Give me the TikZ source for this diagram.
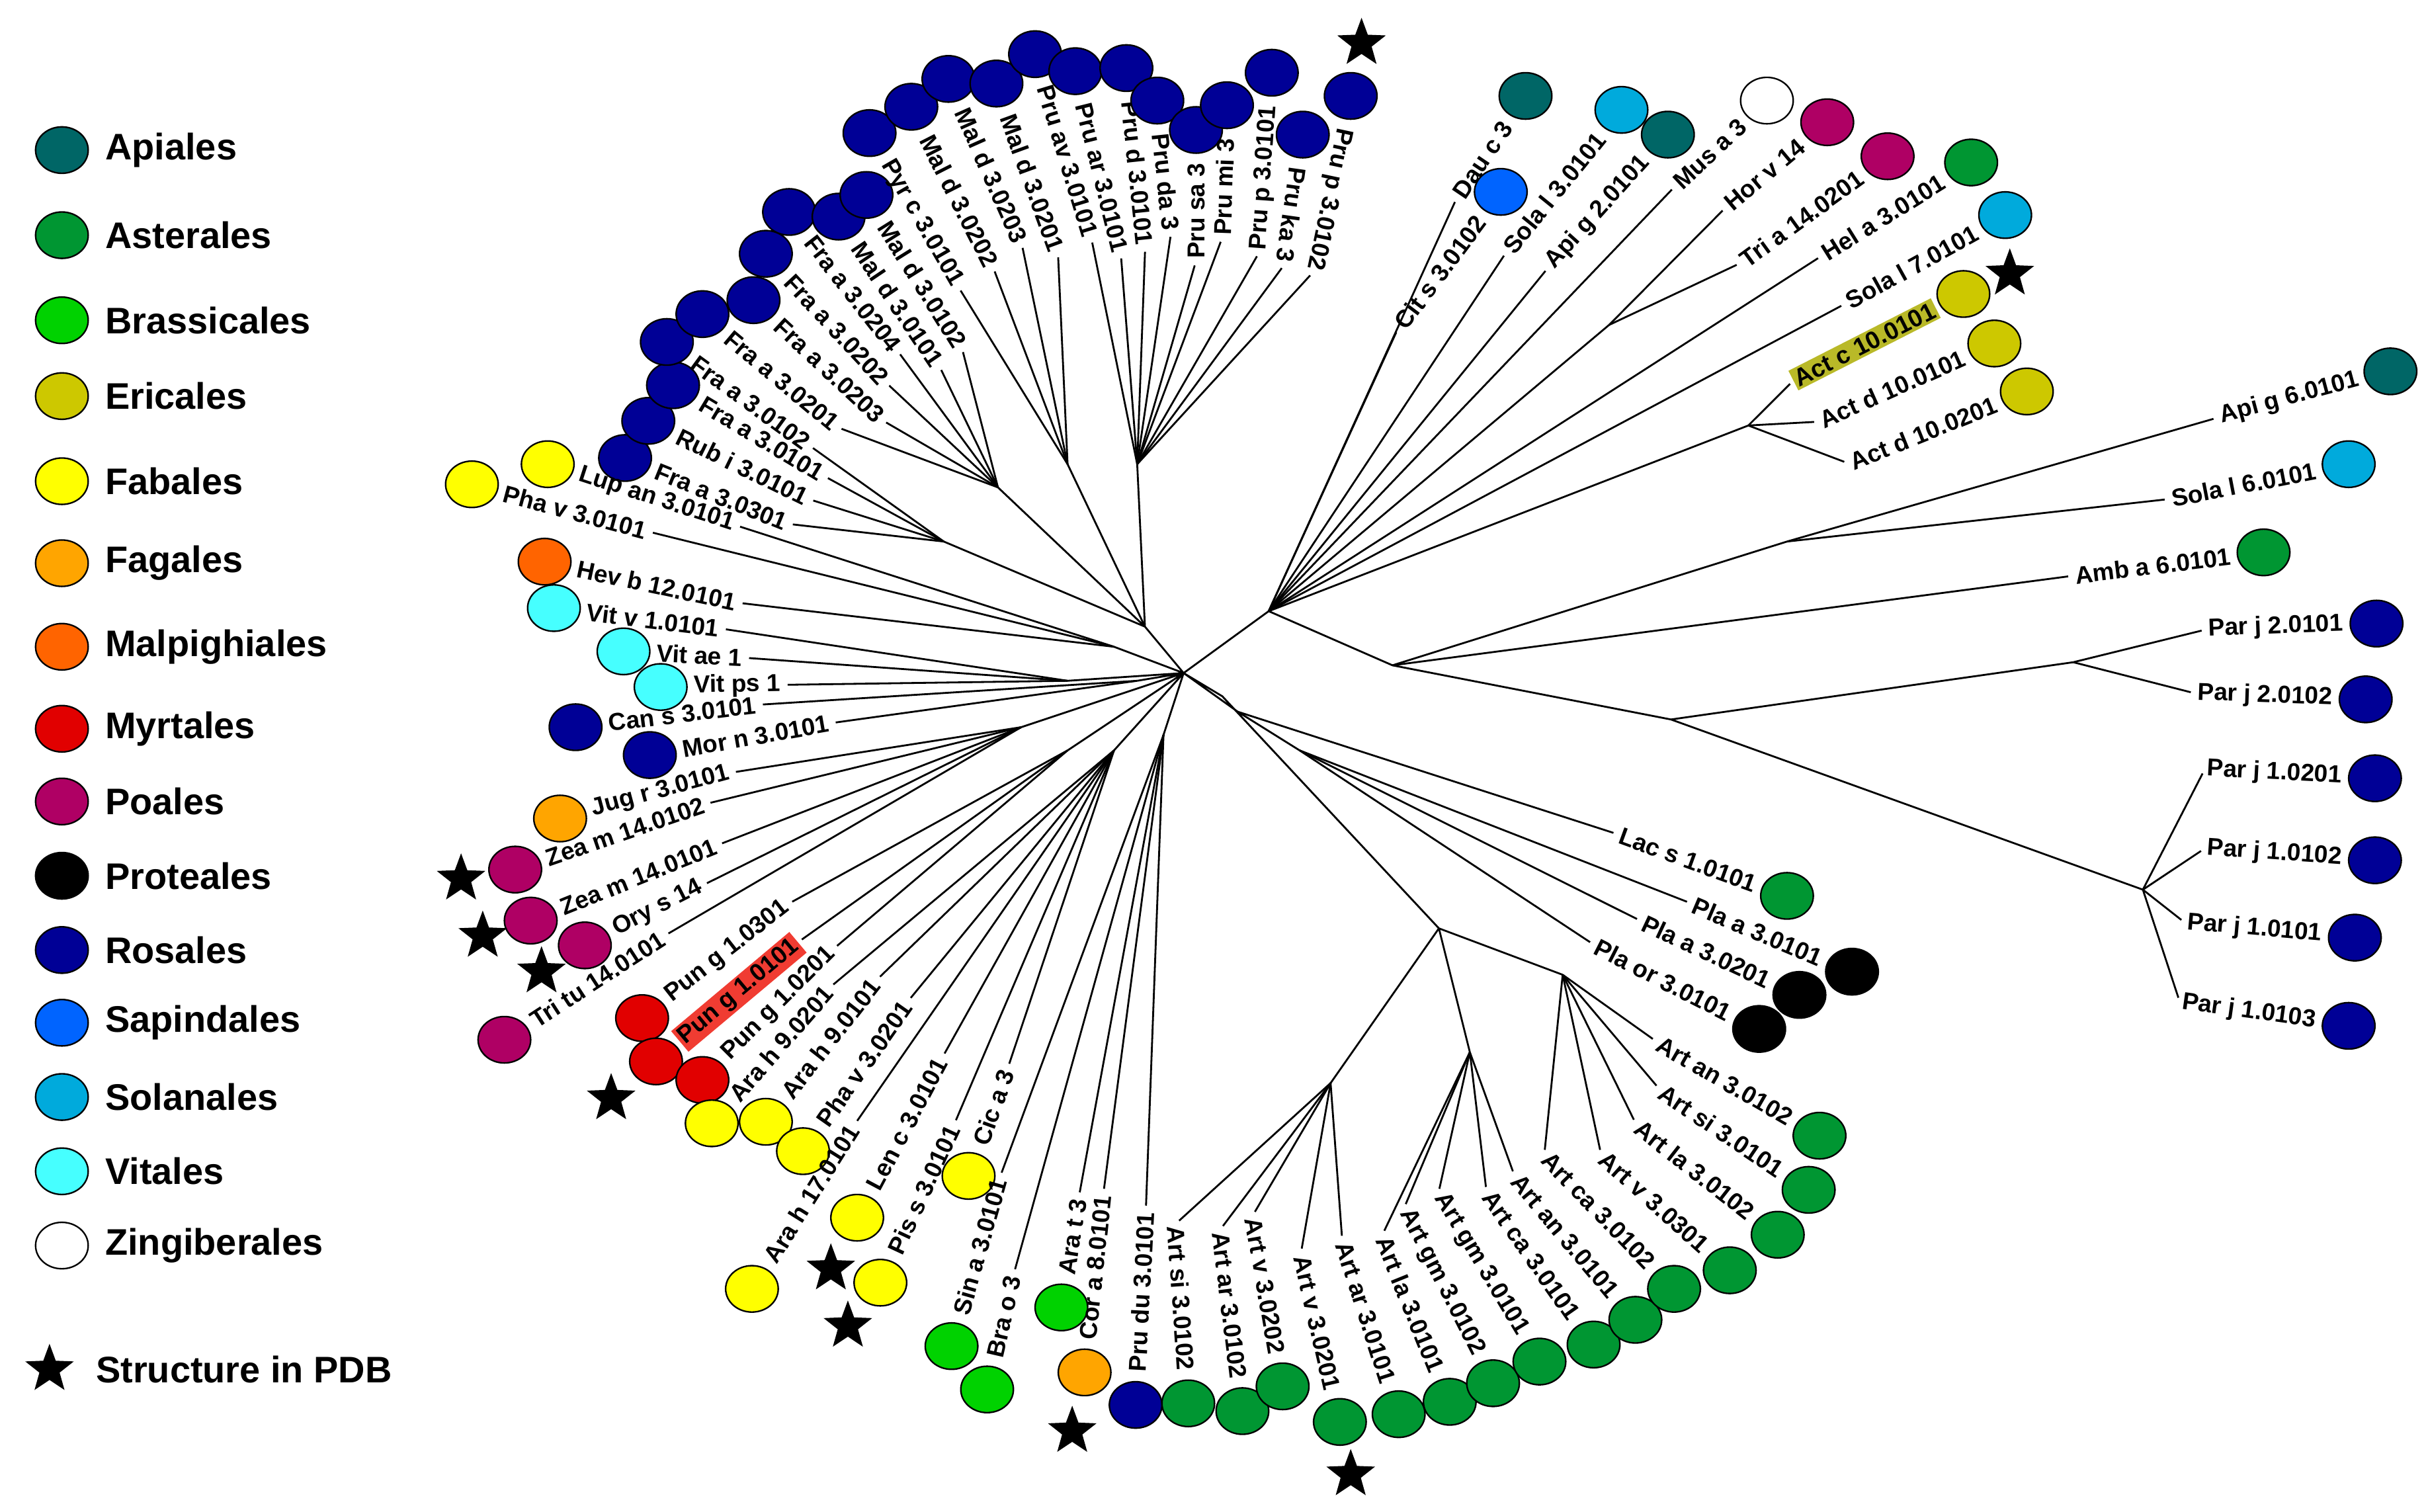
\documentclass[tikz,border=0pt]{standalone}
\usepackage{fontspec}
\setmainfont{Liberation Sans}
\usetikzlibrary{calc,shapes.geometric}
\definecolor{cApi}{RGB}{0,102,102}
\definecolor{cAst}{RGB}{0,150,50}
\definecolor{cBra}{RGB}{0,210,0}
\definecolor{cEri}{RGB}{205,200,0}
\definecolor{cFab}{RGB}{255,255,0}
\definecolor{cFag}{RGB}{255,165,0}
\definecolor{cMal}{RGB}{255,100,0}
\definecolor{cMyr}{RGB}{225,0,0}
\definecolor{cPoa}{RGB}{175,0,100}
\definecolor{cPro}{RGB}{0,0,0}
\definecolor{cRos}{RGB}{0,0,150}
\definecolor{cSap}{RGB}{0,100,255}
\definecolor{cSol}{RGB}{0,170,220}
\definecolor{cVit}{RGB}{70,255,255}
\definecolor{cZin}{RGB}{255,255,255}
\definecolor{hlred}{RGB}{240,60,50}
\definecolor{hlol}{RGB}{185,185,40}
\tikzset{
 leafc/.style={ellipse,draw=black,line width=1mm,minimum width=3.4cm,minimum height=3.0cm,inner sep=0pt},
 lab/.style={font=\fontsize{45}{50}\selectfont\bfseries,inner sep=1.5mm},
 leg/.style={font=\fontsize{68}{72}\selectfont\bfseries,anchor=west,inner sep=0pt},
 br/.style={line width=1.2mm,shorten <=3mm},
 hubl/.style={line width=1.2mm},
 pdb/.style={star,star points=5,star point ratio=2.4,fill=black,minimum size=3.3cm,inner sep=0pt}
}
\newcommand\leafL[8]{%
 \node[leafc,fill=#5] (c#1) at (#2,-#3) {};
 \node[lab,anchor=west,rotate=#4,#8] (t#1) at ($(c#1)+(#4:20)$) {#6};
 \draw[br] (t#1.east) -- (#7);}
\newcommand\leafR[8]{%
 \node[leafc,fill=#5] (c#1) at (#2,-#3) {};
 \node[lab,anchor=east,rotate=#4,#8] (t#1) at ($(c#1)+({#4+180}:20)$) {#6};
 \draw[br] (t#1.west) -- (#7);}
\begin{document}
\begin{tikzpicture}[x=1mm,y=1mm]
\useasboundingbox (0,0) rectangle (1568,-977);
% hubs
\coordinate (O) at (765,-435);
\coordinate (rA) at (740,-405);
\coordinate (rF1) at (610,-350);
\coordinate (rF2) at (645,-315);
\coordinate (rM) at (690,-300);
\coordinate (rP) at (735,-300);
\coordinate (lA) at (720,-418);
\coordinate (lV) at (690,-440);
\coordinate (lC) at (735,-440);
\coordinate (lZ) at (660,-470);
\coordinate (lP) at (690,-485);
\coordinate (lF) at (720,-485);
\coordinate (lB) at (752,-475);
\coordinate (aL) at (800,-460);
\coordinate (aPl) at (840,-485);
\coordinate (aB) at (790,-450);
\coordinate (aA) at (930,-600);
\coordinate (aA1) at (860,-700);
\coordinate (aA2) at (950,-680);
\coordinate (aA3) at (1010,-630);
\coordinate (rtA) at (820,-395);
\coordinate (rtB) at (900,-430);
\coordinate (rtPar) at (1080,-465);
\coordinate (rtP2) at (1340,-428);
\coordinate (rtP1) at (1385,-575);
\coordinate (rtS6) at (1155,-350);
\coordinate (rtAc) at (1130,-275);
\coordinate (rtTH) at (1040,-210);
\draw[hubl] (rA)--(O) (rF1)--(rA) (rF2)--(rA) (rM)--(rA) (rP)--(rA)
 (lA)--(O) (lV)--(O) (lC)--(O) (lZ)--(O) (lP)--(O) (lF)--(O) (lB)--(O)
 (aL)--(O) (aPl)--(aL) (aB)--(O) (aA)--(aB) (aA1)--(aA) (aA2)--(aA) (aA3)--(aA)
 (rtA)--(O) (rtB)--(rtA) (rtPar)--(rtB) (rtP2)--(rtPar) (rtP1)--(rtPar) (rtS6)--(rtB) (rtAc)--(rtA) (rtTH)--(rtA);
% Rosales top
\leafL{r1}{404}{296}{-22}{cRos}{Fra a 3.0301}{rF1}{}
\leafL{r2}{419}{272}{-26}{cRos}{Rub i 3.0101}{rF1}{}
\leafL{r3}{435}{249}{-31}{cRos}{Fra a 3.0101}{rF1}{}
\leafL{r4}{431}{221}{-36}{cRos}{Fra a 3.0102}{rF1}{}
\leafL{r5}{454}{203}{-40}{cRos}{Fra a 3.0201}{rF2}{}
\leafL{r6}{487}{194}{-43}{cRos}{Fra a 3.0203}{rF2}{}
\leafL{r7}{495}{164}{-47}{cRos}{Fra a 3.0202}{rF2}{}
\leafL{r8}{510}{137}{-52}{cRos}{Fra a 3.0204}{rF2}{}
\leafL{r9}{542}{140}{-56}{cRos}{Mal d 3.0101}{rF2}{}
\leafL{r10}{560}{126}{-58}{cRos}{Mal d 3.0102}{rF2}{}
\leafL{r11}{562}{86}{-60}{cRos}{Pyr c 3.0101}{rM}{}
\leafL{r12}{589}{69}{-63}{cRos}{Mal d 3.0202}{rM}{}
\leafL{r13}{613}{51}{-66}{cRos}{Mal d 3.0203}{rM}{}
\leafL{r14}{644}{54}{-70}{cRos}{Mal d 3.0201}{rM}{}
\leafL{r15}{669}{35}{-73}{cRos}{Pru av 3.0101}{rP}{}
\leafL{r16}{695}{46}{-76}{cRos}{Pru ar 3.0101}{rP}{}
\leafL{r17}{728}{44}{-84}{cRos}{Pru d 3.0101}{rP}{}
\leafL{r18}{748}{65}{-84}{cRos}{Pru da 3}{rP}{}
\leafR{r19}{773}{84}{90}{cRos}{Pru sa 3}{rP}{}
\leafR{r20}{793}{68}{88}{cRos}{Pru mi 3}{rP}{}
\leafR{r21}{822}{47}{86}{cRos}{Pru p 3.0101}{rP}{}
\leafL{r22}{842}{87}{-98}{cRos}{Pru ka 3}{rP}{}
\leafL{r23}{873}{62}{-102}{cRos}{Pru p 3.0102}{rP}{}
% left middle
\leafL{m1}{354}{300}{-18}{cFab}{Lup an 3.0101}{lA}{}
\leafL{m2}{305}{313}{-15}{cFab}{Pha v 3.0101}{lA}{}
\leafL{m3}{352}{363}{-12}{cMal}{Hev b 12.0101}{lA}{}
\leafL{m4}{358}{393}{-7}{cVit}{Vit v 1.0101}{lV}{}
\leafL{m5}{403}{421}{-3}{cVit}{Vit ae 1}{lV}{}
\leafL{m6}{427}{444}{1}{cVit}{Vit ps 1}{lV}{}
\leafL{m7}{372}{470}{7}{cRos}{Can s 3.0101}{lC}{}
\leafL{m8}{420}{488}{10}{cRos}{Mor n 3.0101}{lC}{}
\leafL{m9}{362}{529}{15}{cFag}{Jug r 3.0101}{lZ}{}
\leafL{m10}{333}{562}{19}{cPoa}{Zea m 14.0102}{lZ}{}
\leafL{m11}{343}{595}{22}{cPoa}{Zea m 14.0101}{lZ}{}
\leafL{m12}{378}{611}{27}{cPoa}{Ory s 14}{lZ}{}
\leafL{m13}{326}{672}{33}{cPoa}{Tri tu 14.0101}{lZ}{}
\leafL{m14}{415}{658}{38}{cMyr}{Pun g 1.0301}{lP}{}
\leafL{m15}{424}{686}{40}{cMyr}{Pun g 1.0101}{lP}{fill=hlred}
\leafL{m16}{454}{698}{45}{cMyr}{Pun g 1.0201}{lP}{}
\leafL{m17}{460}{726}{49}{cFab}{Ara h 9.0201}{lF}{}
\leafL{m18}{495}{725}{52}{cFab}{Ara h 9.0101}{lF}{}
\leafL{m19}{519}{744}{55}{cFab}{Pha v 3.0201}{lF}{}
\leafL{m20}{486}{833}{58}{cFab}{Ara h 17.0101}{lF}{}
\leafL{m21}{554}{787}{62}{cFab}{Len c 3.0101}{lF}{}
\leafL{m22}{569}{829}{65}{cFab}{Pis s 3.0101}{lF}{}
\leafL{m23}{626}{760}{70}{cFab}{Cic a 3}{lF}{}
\leafL{m24}{615}{870}{74}{cBra}{Sin a 3.0101}{lB}{}
\leafL{m25}{638}{898}{77}{cBra}{Bra o 3}{lB}{}
\leafL{m26}{686}{845}{81}{cBra}{Ara t 3}{lB}{}
\leafL{m27}{701}{887}{84}{cFag}{Cor a 8.0101}{lB}{}
\leafL{m28}{734}{908}{87}{cRos}{Pru du 3.0101}{lB}{}
% Asterales / Proteales bottom
\leafR{b1}{768}{907}{-86}{cAst}{Art si 3.0102}{aA1}{}
\leafR{b2}{803}{912}{-83}{cAst}{Art ar 3.0102}{aA1}{}
\leafR{b3}{829}{896}{-80}{cAst}{Art v 3.0202}{aA1}{}
\leafR{b4}{866}{919}{-77}{cAst}{Art v 3.0201}{aA1}{}
\leafR{b5}{904}{914}{-72}{cAst}{Art ar 3.0101}{aA1}{}
\leafR{b6}{937}{906}{-68}{cAst}{Art la 3.0101}{aA2}{}
\leafR{b7}{965}{894}{-63}{cAst}{Art gm 3.0102}{aA2}{}
\leafR{b8}{995}{880}{-59}{cAst}{Art gm 3.0101}{aA2}{}
\leafR{b9}{1030}{869}{-55}{cAst}{Art ca 3.0101}{aA2}{}
\leafR{b10}{1057}{853}{-50}{cAst}{Art an 3.0101}{aA2}{}
\leafR{b11}{1082}{833}{-46}{cAst}{Art ca 3.0102}{aA3}{}
\leafR{b12}{1118}{821}{-42}{cAst}{Art v 3.0301}{aA3}{}
\leafR{b13}{1149}{798}{-38}{cAst}{Art la 3.0102}{aA3}{}
\leafR{b14}{1169}{769}{-34}{cAst}{Art si 3.0101}{aA3}{}
\leafR{b15}{1176}{734}{-30}{cAst}{Art an 3.0102}{aA3}{}
\leafR{b16}{1137}{665}{-27}{cPro}{Pla or 3.0101}{aPl}{}
\leafR{b17}{1163}{643}{-25}{cPro}{Pla a 3.0201}{aPl}{}
\leafR{b18}{1197}{628}{-23}{cPro}{Pla a 3.0101}{aPl}{}
\leafR{b19}{1155}{579}{-20}{cAst}{Lac s 1.0101}{aL}{}
% right
\leafR{p1}{1518}{663}{-8}{cRos}{Par j 1.0103}{rtP1}{}
\leafR{p2}{1522}{606}{-5}{cRos}{Par j 1.0101}{rtP1}{}
\leafR{p3}{1535}{556}{-4}{cRos}{Par j 1.0102}{rtP1}{}
\leafR{p4}{1535}{503}{-3}{cRos}{Par j 1.0201}{rtP1}{}
\leafR{p5}{1529}{452}{-2}{cRos}{Par j 2.0102}{rtP2}{}
\leafR{p6}{1536}{403}{2}{cRos}{Par j 2.0101}{rtP2}{}
\leafR{p7}{1463}{357}{7}{cAst}{Amb a 6.0101}{rtB}{}
\leafR{p8}{1518}{300}{11}{cSol}{Sola l 6.0101}{rtS6}{}
\leafR{p9}{1545}{240}{15}{cApi}{Api g 6.0101}{rtS6}{}
\leafR{p10}{1310}{253}{22}{cEri}{Act d 10.0201}{rtAc}{}
\leafR{p11}{1289}{222}{24}{cEri}{Act d 10.0101}{rtAc}{}
\leafR{p12}{1269}{190}{27}{cEri}{Act c 10.0101}{rtAc}{fill=hlol}
\leafR{p13}{1296}{139}{29}{cSol}{Sola l 7.0101}{rtA}{}
\leafR{p14}{1274}{105}{32}{cAst}{Hel a 3.0101}{rtA}{}
\leafR{p15}{1220}{101}{36}{cPoa}{Tri a 14.0201}{rtTH}{}
\leafR{p16}{1181}{79}{40}{cPoa}{Hor v 14}{rtTH}{}
\leafR{p17}{1142}{65}{43}{cZin}{Mus a 3}{rtA}{}
\leafR{p18}{1078}{87}{48}{cApi}{Api g 2.0101}{rtA}{}
\leafR{p19}{1048}{71}{51}{cSol}{Sola l 3.0101}{rtA}{}
\leafR{p20}{970}{124}{53}{cSap}{Cit s 3.0102}{rtA}{}
\leafR{p21}{986}{62}{56}{cApi}{Dau c 3}{rtA}{}
% stars
\foreach \i/\x/\y in {s1/880/28,s2/693/925,s3/873/953,s4/395/710,s5/298/568,s6/312/605,s7/350/628,s8/537/820,s9/548/857,s10/1299/177}
 \node[pdb] (\i) at (\x,-\y) {};
% legend
\foreach \i/\y/\c/\t in {g1/97/cApi/Apiales,g2/152/cAst/Asterales,g3/207/cBra/Brassicales,g4/256/cEri/Ericales,g5/311/cFab/Fabales,g6/364/cFag/Fagales,g7/418/cMal/Malpighiales,g8/471/cMyr/Myrtales,g9/518/cPoa/Poales,g10/566/cPro/Proteales,g11/614/cRos/Rosales,g12/661/cSap/Sapindales,g13/709/cSol/Solanales,g14/757/cVit/Vitales,g15/805/cZin/Zingiberales}{
 \node[leafc,fill=\c] (c\i) at (40,-\y) {};
 \node[leg] (t\i) at (68,-\y) {\t};}
\node[pdb] (gs) at (32,-885) {};
\node[leg] (gst) at (62,-885) {Structure in PDB};
\end{tikzpicture}
\end{document}
